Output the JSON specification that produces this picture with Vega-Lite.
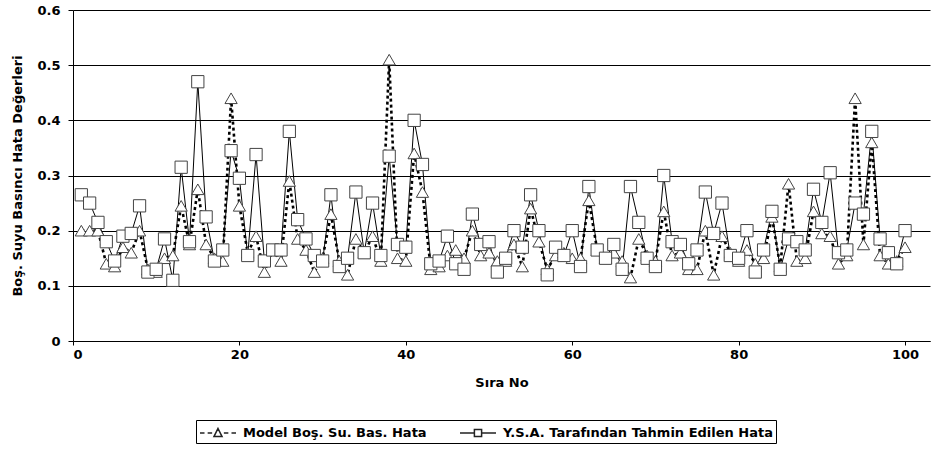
{
  "$schema": "https://vega.github.io/schema/vega-lite/v6.json",
  "autosize": {"type": "none"},
  "width": 857,
  "height": 331,
  "padding": {"left": 73, "top": 10, "right": 2, "bottom": 109},
  "background": "white",
  "config": {
    "view": {"stroke": null},
    "font": "DejaVu Sans",
    "axis": {
      "labelFont": "DejaVu Sans", "labelFontWeight": "bold", "labelFontSize": 13, "labelColor": "black",
      "titleFont": "DejaVu Sans", "titleFontWeight": "bold", "titleFontSize": 13, "titleColor": "black",
      "domainColor": "black", "tickColor": "black", "gridColor": "black", "gridOpacity": 1, "gridWidth": 1
    }
  },
  "data": {"values": [
    {"i":1,"s":"M","v":0.2},{"i":2,"s":"M","v":0.2},{"i":3,"s":"M","v":0.2},{"i":4,"s":"M","v":0.14},{"i":5,"s":"M","v":0.135},
    {"i":6,"s":"M","v":0.17},{"i":7,"s":"M","v":0.16},{"i":8,"s":"M","v":0.2},{"i":9,"s":"M","v":0.13},{"i":10,"s":"M","v":0.125},
    {"i":11,"s":"M","v":0.15},{"i":12,"s":"M","v":0.155},{"i":13,"s":"M","v":0.245},{"i":14,"s":"M","v":0.175},{"i":15,"s":"M","v":0.275},
    {"i":16,"s":"M","v":0.175},{"i":17,"s":"M","v":0.15},{"i":18,"s":"M","v":0.145},{"i":19,"s":"M","v":0.44},{"i":20,"s":"M","v":0.245},
    {"i":21,"s":"M","v":0.16},{"i":22,"s":"M","v":0.19},{"i":23,"s":"M","v":0.125},{"i":24,"s":"M","v":0.165},{"i":25,"s":"M","v":0.145},
    {"i":26,"s":"M","v":0.29},{"i":27,"s":"M","v":0.185},{"i":28,"s":"M","v":0.165},{"i":29,"s":"M","v":0.125},{"i":30,"s":"M","v":0.15},
    {"i":31,"s":"M","v":0.23},{"i":32,"s":"M","v":0.145},{"i":33,"s":"M","v":0.12},{"i":34,"s":"M","v":0.185},{"i":35,"s":"M","v":0.16},
    {"i":36,"s":"M","v":0.19},{"i":37,"s":"M","v":0.145},{"i":38,"s":"M","v":0.51},{"i":39,"s":"M","v":0.15},{"i":40,"s":"M","v":0.145},
    {"i":41,"s":"M","v":0.34},{"i":42,"s":"M","v":0.27},{"i":43,"s":"M","v":0.13},{"i":44,"s":"M","v":0.135},{"i":45,"s":"M","v":0.155},
    {"i":46,"s":"M","v":0.165},{"i":47,"s":"M","v":0.15},{"i":48,"s":"M","v":0.2},{"i":49,"s":"M","v":0.155},{"i":50,"s":"M","v":0.16},
    {"i":51,"s":"M","v":0.145},{"i":52,"s":"M","v":0.145},{"i":53,"s":"M","v":0.175},{"i":54,"s":"M","v":0.135},{"i":55,"s":"M","v":0.24},
    {"i":56,"s":"M","v":0.18},{"i":57,"s":"M","v":0.13},{"i":58,"s":"M","v":0.155},{"i":59,"s":"M","v":0.16},{"i":60,"s":"M","v":0.15},
    {"i":61,"s":"M","v":0.15},{"i":62,"s":"M","v":0.255},{"i":63,"s":"M","v":0.165},{"i":64,"s":"M","v":0.15},{"i":65,"s":"M","v":0.16},
    {"i":66,"s":"M","v":0.145},{"i":67,"s":"M","v":0.115},{"i":68,"s":"M","v":0.185},{"i":69,"s":"M","v":0.155},{"i":70,"s":"M","v":0.145},
    {"i":71,"s":"M","v":0.235},{"i":72,"s":"M","v":0.155},{"i":73,"s":"M","v":0.16},{"i":74,"s":"M","v":0.13},{"i":75,"s":"M","v":0.13},
    {"i":76,"s":"M","v":0.2},{"i":77,"s":"M","v":0.12},{"i":78,"s":"M","v":0.19},{"i":79,"s":"M","v":0.16},{"i":80,"s":"M","v":0.145},
    {"i":81,"s":"M","v":0.165},{"i":82,"s":"M","v":0.14},{"i":83,"s":"M","v":0.15},{"i":84,"s":"M","v":0.225},{"i":85,"s":"M","v":0.135},
    {"i":86,"s":"M","v":0.285},{"i":87,"s":"M","v":0.145},{"i":88,"s":"M","v":0.15},{"i":89,"s":"M","v":0.235},{"i":90,"s":"M","v":0.195},
    {"i":91,"s":"M","v":0.19},{"i":92,"s":"M","v":0.14},{"i":93,"s":"M","v":0.155},{"i":94,"s":"M","v":0.44},{"i":95,"s":"M","v":0.175},
    {"i":96,"s":"M","v":0.36},{"i":97,"s":"M","v":0.155},{"i":98,"s":"M","v":0.14},{"i":99,"s":"M","v":0.145},{"i":100,"s":"M","v":0.17},
    {"i":1,"s":"Y","v":0.265},{"i":2,"s":"Y","v":0.25},{"i":3,"s":"Y","v":0.215},{"i":4,"s":"Y","v":0.18},{"i":5,"s":"Y","v":0.145},
    {"i":6,"s":"Y","v":0.19},{"i":7,"s":"Y","v":0.195},{"i":8,"s":"Y","v":0.245},{"i":9,"s":"Y","v":0.125},{"i":10,"s":"Y","v":0.13},
    {"i":11,"s":"Y","v":0.185},{"i":12,"s":"Y","v":0.11},{"i":13,"s":"Y","v":0.315},{"i":14,"s":"Y","v":0.18},{"i":15,"s":"Y","v":0.47},
    {"i":16,"s":"Y","v":0.225},{"i":17,"s":"Y","v":0.145},{"i":18,"s":"Y","v":0.165},{"i":19,"s":"Y","v":0.345},{"i":20,"s":"Y","v":0.295},
    {"i":21,"s":"Y","v":0.155},{"i":22,"s":"Y","v":0.338},{"i":23,"s":"Y","v":0.145},{"i":24,"s":"Y","v":0.165},{"i":25,"s":"Y","v":0.165},
    {"i":26,"s":"Y","v":0.38},{"i":27,"s":"Y","v":0.22},{"i":28,"s":"Y","v":0.185},{"i":29,"s":"Y","v":0.155},{"i":30,"s":"Y","v":0.145},
    {"i":31,"s":"Y","v":0.265},{"i":32,"s":"Y","v":0.135},{"i":33,"s":"Y","v":0.15},{"i":34,"s":"Y","v":0.27},{"i":35,"s":"Y","v":0.16},
    {"i":36,"s":"Y","v":0.25},{"i":37,"s":"Y","v":0.155},{"i":38,"s":"Y","v":0.335},{"i":39,"s":"Y","v":0.175},{"i":40,"s":"Y","v":0.17},
    {"i":41,"s":"Y","v":0.4},{"i":42,"s":"Y","v":0.32},{"i":43,"s":"Y","v":0.14},{"i":44,"s":"Y","v":0.145},{"i":45,"s":"Y","v":0.19},
    {"i":46,"s":"Y","v":0.14},{"i":47,"s":"Y","v":0.13},{"i":48,"s":"Y","v":0.23},{"i":49,"s":"Y","v":0.175},{"i":50,"s":"Y","v":0.18},
    {"i":51,"s":"Y","v":0.125},{"i":52,"s":"Y","v":0.15},{"i":53,"s":"Y","v":0.2},{"i":54,"s":"Y","v":0.17},{"i":55,"s":"Y","v":0.265},
    {"i":56,"s":"Y","v":0.2},{"i":57,"s":"Y","v":0.12},{"i":58,"s":"Y","v":0.17},{"i":59,"s":"Y","v":0.155},{"i":60,"s":"Y","v":0.2},
    {"i":61,"s":"Y","v":0.135},{"i":62,"s":"Y","v":0.28},{"i":63,"s":"Y","v":0.165},{"i":64,"s":"Y","v":0.15},{"i":65,"s":"Y","v":0.175},
    {"i":66,"s":"Y","v":0.13},{"i":67,"s":"Y","v":0.28},{"i":68,"s":"Y","v":0.215},{"i":69,"s":"Y","v":0.15},{"i":70,"s":"Y","v":0.135},
    {"i":71,"s":"Y","v":0.3},{"i":72,"s":"Y","v":0.18},{"i":73,"s":"Y","v":0.175},{"i":74,"s":"Y","v":0.14},{"i":75,"s":"Y","v":0.165},
    {"i":76,"s":"Y","v":0.27},{"i":77,"s":"Y","v":0.195},{"i":78,"s":"Y","v":0.25},{"i":79,"s":"Y","v":0.155},{"i":80,"s":"Y","v":0.15},
    {"i":81,"s":"Y","v":0.2},{"i":82,"s":"Y","v":0.125},{"i":83,"s":"Y","v":0.165},{"i":84,"s":"Y","v":0.235},{"i":85,"s":"Y","v":0.13},
    {"i":86,"s":"Y","v":0.185},{"i":87,"s":"Y","v":0.18},{"i":88,"s":"Y","v":0.165},{"i":89,"s":"Y","v":0.275},{"i":90,"s":"Y","v":0.215},
    {"i":91,"s":"Y","v":0.305},{"i":92,"s":"Y","v":0.16},{"i":93,"s":"Y","v":0.165},{"i":94,"s":"Y","v":0.25},{"i":95,"s":"Y","v":0.23},
    {"i":96,"s":"Y","v":0.38},{"i":97,"s":"Y","v":0.185},{"i":98,"s":"Y","v":0.16},{"i":99,"s":"Y","v":0.14},{"i":100,"s":"Y","v":0.2}
  ]},
  "encoding": {
    "x": {"field": "i", "type": "quantitative", "scale": {"domain": [0, 103], "nice": false},
      "axis": {"values": [0, 20, 40, 60, 80, 100], "grid": false, "title": "Sıra No", "tickSize": 4, "labelPadding": 3, "titlePadding": 15}},
    "y": {"field": "v", "type": "quantitative", "scale": {"domain": [0, 0.6], "nice": false},
      "axis": {"values": [0, 0.1, 0.2, 0.3, 0.4, 0.5, 0.6], "format": ".1~f", "grid": true, "tickSize": 5, "labelPadding": 8,
        "title": "Boş. Suyu Basıncı Hata Değerleri", "titlePadding": 12}}
  },
  "layer": [
    {
      "transform": [{"filter": "datum.s === 'M'"}],
      "mark": {"type": "line", "color": "black", "strokeDash": [3, 3], "strokeWidth": 2.6},
      "encoding": {}
    },
    {
      "transform": [{"filter": "datum.s === 'Y'"}],
      "mark": {"type": "line", "color": "black", "strokeWidth": 1},
      "encoding": {}
    },
    {
      "transform": [{"filter": "datum.s === 'M'"}],
      "mark": {"type": "point", "shape": "triangle-up", "filled": false, "fill": "white", "fillOpacity": 1, "stroke": "#444", "strokeWidth": 1, "opacity": 1, "size": 150},
      "encoding": {}
    },
    {
      "transform": [{"filter": "datum.s === 'Y'"}],
      "mark": {"type": "point", "shape": "square", "filled": false, "fill": "white", "fillOpacity": 1, "stroke": "#444", "strokeWidth": 1, "opacity": 1, "size": 150},
      "encoding": {}
    },
    {
      "transform": [{"filter": "datum.i > 1000"}],
      "mark": {"type": "point", "color": "#222", "stroke": "#222", "strokeWidth": 1.5},
      "encoding": {
        "shape": {"field": "s", "type": "nominal",
          "scale": {"domain": ["M", "Y"], "range": [
            "M-1,0H-0.5M-0.15,0H0.35M1.65,0H2.15M2.5,0H3M1,-0.5L1.45,0.4L0.55,0.4Z",
            "M-1,0H0.6M1.4,0H3M0.6,-0.4H1.4V0.4H0.6Z"
          ]},
          "legend": {
            "title": null, "orient": "none", "legendX": 123, "legendY": 410, "direction": "horizontal",
            "labelExpr": "datum.value === 'M' ? 'Model Boş. Su. Bas. Hata' : 'Y.S.A. Tarafından Tahmin Edilen Hata'",
            "labelFont": "DejaVu Sans", "labelFontWeight": "bold", "labelFontSize": 13, "labelColor": "black", "labelLimit": 0,
            "strokeColor": "black", "padding": 3, "columnPadding": 30, "labelOffset": 24,
            "symbolSize": 324, "symbolStrokeWidth": 1.5, "symbolStrokeColor": "#222", "symbolFillColor": "white", "symbolOpacity": 1
          }
        }
      }
    }
  ]
}
